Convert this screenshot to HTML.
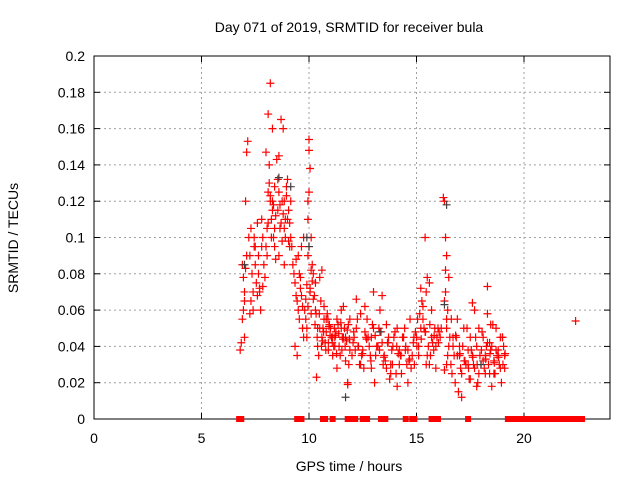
<!DOCTYPE html>
<html><head><meta charset="utf-8"><style>
body{margin:0;background:#fff;}
svg{display:block;font-family:"Liberation Sans",sans-serif;}
</style></head><body>
<svg id="c" width="640" height="480">
<text x="349" y="32" font-size="14" text-anchor="middle">Day 071 of 2019, SRMTID for receiver bula</text>
<text x="349" y="471" font-size="14" text-anchor="middle">GPS time / hours</text>
<text transform="translate(18,238) rotate(-90)" font-size="14" text-anchor="middle">SRMTID / TECUs</text>
<g id="grid"></g><g id="axes"></g><g id="pts"></g>
</svg>
<script>
const xTicks=[0,5,10,15,20];
const yTicks=[0,0.02,0.04,0.06,0.08,0.1,0.12,0.14,0.16,0.18,0.2];
const yTickLabels=["0","0.02","0.04","0.06","0.08","0.1","0.12","0.14","0.16","0.18","0.2"];
const redX=[6.8,6.85,6.9,6.95,7.0,7.05,7.1,6.9,7.0,7.05,7.1,7.15,7.0,6.95,7.2,7.25,7.3,7.35,7.4,7.45,7.5,7.55,7.6,7.65,7.7,7.75,7.8,7.85,7.9,7.95,7.3,7.4,7.5,7.6,7.7,7.8,7.25,7.45,7.65,7.85,
8.0,8.05,8.1,8.15,8.2,8.25,8.3,8.35,8.4,8.45,8.0,8.1,8.2,8.3,8.4,8.15,8.2,8.1,8.3,8.05,8.25,8.35,8.45,8.4,
8.5,8.55,8.6,8.65,8.7,8.75,8.8,8.85,8.9,8.95,9.0,9.05,9.1,9.15,9.2,9.25,8.6,8.7,8.8,8.9,9.0,9.1,8.55,8.65,8.75,8.85,8.95,9.05,9.15,8.6,8.85,
9.3,9.35,9.4,9.45,9.5,9.55,9.6,9.65,9.7,9.75,9.35,9.45,9.55,9.65,9.75,9.4,9.6,9.5,9.7,
9.8,9.85,9.9,9.95,10.0,10.05,10.1,10.15,10.2,9.85,9.9,9.95,10.0,10.05,9.9,9.95,10.0,10.1,10.15,10.2,9.95,10.0,10.05,10.1,
10.25,10.3,10.4,10.5,10.6,10.7,10.8,10.9,11.0,11.1,11.2,11.3,11.4,11.5,11.6,11.7,11.8,11.9,10.35,10.45,10.55,10.65,10.75,10.85,10.95,11.05,11.15,11.25,11.35,11.45,11.55,11.65,11.75,11.85,10.3,10.5,10.7,10.9,11.1,11.3,11.5,11.7,11.9,10.4,10.8,11.2,11.6,11.8,10.6,
10.28,10.38,10.48,10.58,10.68,10.78,10.88,10.98,11.08,11.18,11.28,11.38,11.48,11.58,11.68,11.78,11.88,10.33,10.63,10.93,11.23,11.53,11.83,
12.0,12.1,12.2,12.3,12.4,12.5,12.6,12.7,12.8,12.9,13.0,13.1,13.2,13.3,13.4,13.5,13.6,13.7,13.8,13.9,14.0,14.1,14.2,14.3,14.4,14.5,14.6,14.7,14.8,14.9,12.05,12.25,12.45,12.65,12.85,13.05,13.25,13.45,13.65,13.85,14.05,14.25,14.45,14.65,14.85,12.15,12.35,12.55,12.75,12.95,13.15,13.35,13.55,13.75,13.95,14.15,14.35,14.55,14.75,14.95,12.2,12.6,13.0,13.4,13.8,14.2,14.6,13.2,13.6,12.4,14.1,12.9,
12.08,12.28,12.48,12.68,12.88,13.08,13.28,13.48,13.68,13.88,14.08,14.28,14.48,14.68,14.88,
15.0,15.1,15.2,15.3,15.4,15.5,15.6,15.7,15.8,15.9,16.0,16.1,15.05,15.15,15.25,15.35,15.45,15.55,15.65,15.75,15.85,15.95,16.05,15.1,15.3,15.5,15.7,15.9,15.4,15.2,15.6,15.45,
15.02,15.22,15.42,15.62,15.82,16.02,16.15,
16.25,16.3,16.35,16.4,16.45,16.5,16.55,16.3,16.35,16.4,16.45,16.35,16.4,16.5,16.4,16.3,
16.6,16.7,16.8,16.9,17.0,17.1,17.2,17.3,17.4,17.5,17.6,17.7,17.8,17.9,18.0,18.1,18.2,18.3,18.4,18.5,18.6,18.7,18.8,18.9,19.0,19.1,16.65,16.75,16.85,16.95,17.05,17.15,17.25,17.35,17.45,17.55,17.65,17.75,17.85,17.95,18.05,18.15,18.25,18.35,18.45,18.55,18.65,18.75,18.85,18.95,19.05,16.7,16.9,17.1,17.3,17.5,17.7,17.9,18.1,18.3,18.5,18.7,18.9,19.1,17.0,17.4,17.8,18.2,18.6,19.0,18.4,18.45,17.6,18.3,
16.62,16.82,17.02,17.22,17.42,17.62,17.82,18.02,18.22,18.42,18.62,18.82,19.02,19.12];
const redY=[0.038,0.042,0.055,0.06,0.07,0.083,0.09,0.085,0.065,0.12,0.147,0.153,0.045,0.078,0.1,0.09,0.105,0.08,0.07,0.095,0.085,0.075,0.068,0.09,0.072,0.06,0.11,0.1,0.085,0.078,0.065,0.06,0.095,0.108,0.07,0.095,0.058,0.1,0.08,0.073,
0.095,0.105,0.125,0.13,0.12,0.11,0.115,0.1,0.095,0.088,0.147,0.168,0.185,0.16,0.128,0.14,0.123,0.108,0.12,0.09,0.1,0.118,0.112,0.105,
0.143,0.132,0.125,0.118,0.108,0.12,0.113,0.105,0.11,0.128,0.132,0.115,0.108,0.12,0.095,0.085,0.145,0.165,0.16,0.1,0.11,0.095,0.115,0.105,0.098,0.12,0.123,0.098,0.1,0.09,0.085,
0.08,0.075,0.088,0.065,0.06,0.055,0.072,0.068,0.05,0.045,0.04,0.035,0.08,0.095,0.1,0.068,0.078,0.09,0.062,
0.06,0.055,0.074,0.09,0.154,0.138,0.1,0.085,0.08,0.066,0.05,0.11,0.125,0.07,0.045,0.062,0.148,0.082,0.076,0.066,0.12,0.095,0.072,0.058,
0.068,0.06,0.04,0.05,0.045,0.055,0.048,0.042,0.05,0.035,0.045,0.055,0.04,0.05,0.062,0.045,0.02,0.038,0.023,0.035,0.065,0.05,0.042,0.058,0.052,0.045,0.04,0.048,0.052,0.035,0.045,0.05,0.043,0.03,0.075,0.078,0.062,0.038,0.045,0.028,0.06,0.032,0.055,0.05,0.055,0.04,0.045,0.019,0.082,
0.052,0.045,0.058,0.04,0.048,0.038,0.055,0.046,0.042,0.05,0.036,0.047,0.053,0.044,0.04,0.049,0.044,0.058,0.043,0.051,0.046,0.038,0.052,
0.035,0.045,0.05,0.04,0.03,0.038,0.048,0.055,0.04,0.045,0.05,0.035,0.04,0.06,0.042,0.035,0.028,0.045,0.03,0.04,0.048,0.05,0.038,0.025,0.045,0.04,0.038,0.055,0.035,0.03,0.042,0.055,0.035,0.045,0.035,0.02,0.05,0.03,0.042,0.038,0.025,0.035,0.05,0.032,0.042,0.038,0.03,0.028,0.045,0.052,0.04,0.048,0.032,0.022,0.045,0.036,0.045,0.03,0.028,0.048,0.066,0.062,0.07,0.068,0.025,0.03,0.02,0.04,0.052,0.058,0.018,0.028,
0.048,0.04,0.036,0.044,0.032,0.046,0.038,0.034,0.042,0.03,0.04,0.035,0.038,0.033,0.045,
0.045,0.04,0.05,0.055,0.048,0.035,0.03,0.045,0.038,0.028,0.05,0.045,0.055,0.058,0.065,0.05,0.07,0.04,0.035,0.042,0.05,0.045,0.048,0.035,0.062,0.078,0.06,0.04,0.1,0.072,0.075,0.03,
0.04,0.044,0.048,0.052,0.046,0.042,0.05,
0.122,0.12,0.1,0.09,0.06,0.078,0.045,0.065,0.07,0.055,0.035,0.082,0.05,0.04,0.03,0.027,
0.03,0.045,0.02,0.035,0.04,0.025,0.05,0.03,0.038,0.045,0.035,0.028,0.04,0.05,0.03,0.045,0.035,0.058,0.025,0.04,0.032,0.05,0.038,0.028,0.045,0.035,0.025,0.035,0.045,0.015,0.028,0.04,0.032,0.05,0.022,0.038,0.03,0.045,0.02,0.035,0.048,0.028,0.04,0.03,0.038,0.052,0.025,0.035,0.03,0.02,0.04,0.04,0.055,0.012,0.03,0.022,0.06,0.025,0.032,0.042,0.018,0.038,0.045,0.028,0.035,0.03,0.018,0.025,0.025,0.045,0.042,0.052,0.064,0.073,0.055,0.046,
0.036,0.032,0.028,0.034,0.03,0.038,0.033,0.036,0.031,0.034,0.03,0.036,0.033,0.038];
const lateX=[22.4];
const lateY=[0.054];
const grayX=[7.0,8.6,9.15,9.9,10.0,11.7,13.3,16.4,16.3,18.0];
const grayY=[0.085,0.133,0.128,0.1,0.095,0.012,0.048,0.118,0.063,0.03];
const zeroX=[6.75,6.8,6.85,9.45,9.55,9.65,10.65,10.75,11.1,11.8,11.9,12.0,12.15,12.5,12.6,12.7,13.35,13.45,13.55,14.5,14.8,14.9,15.7,15.8,16.0,17.4,19.25,19.4,19.55,19.7,19.85,20.0,20.15,20.3,20.45,20.6,20.75,20.9,21.05,21.2,21.35,21.5,21.65,21.8,21.95,22.1,22.25,22.4,22.55,22.7];
const X0=94,X1=610,Y0=419,Y1=56;
const sx=v=>X0+(X1-X0)*v/24, sy=v=>Y0-(Y0-Y1)*v/0.2;
const NS='http://www.w3.org/2000/svg';
function mk(tag,attrs,parent){const e=document.createElementNS(NS,tag);for(const k in attrs)e.setAttribute(k,attrs[k]);parent.appendChild(e);return e;}
const grid=document.getElementById('grid'),axes=document.getElementById('axes'),pts=document.getElementById('pts');
yTicks.forEach((t,i)=>{const y=sy(t);
 if(i>0&&i<yTicks.length-1){const g=mk('line',{x1:X0,x2:X1,y1:y,y2:y,stroke:'#a0a0a0','stroke-dasharray':'2,3'},grid);}
 mk('line',{x1:X0,x2:X0+6,y1:y,y2:y,stroke:'#000'},axes);mk('line',{x1:X1,x2:X1-6,y1:y,y2:y,stroke:'#000'},axes);
 const tx=mk('text',{x:X0-9,y:y+5,'font-size':14,'text-anchor':'end'},axes);tx.textContent=yTickLabels[i];
 });
xTicks.forEach(t=>{const x=sx(t);
 if(t>0){const g=mk('line',{x1:x,x2:x,y1:Y0,y2:Y1,stroke:'#a0a0a0','stroke-dasharray':'2,3'},grid);}
 mk('line',{x1:x,x2:x,y1:Y0,y2:Y0-6,stroke:'#000'},axes);mk('line',{x1:x,x2:x,y1:Y1,y2:Y1+6,stroke:'#000'},axes);
 const tx=mk('text',{x:x,y:Y0+24,'font-size':14,'text-anchor':'middle'},axes);tx.textContent=t;
 });
const fr=mk('rect',{x:X0,y:Y1,width:X1-X0,height:Y0-Y1,fill:'none',stroke:'#000'},axes);

function plus(x,y,col){const p=mk('path',{d:`M${x-4},${y}h8M${x},${y-4}v8`,stroke:col,'stroke-width':1.2},pts);return p;}
const nRed=Math.min(redX.length,redY.length);
for(let i=0;i<nRed;i++){const p=plus(sx(redX[i]),sy(redY[i]),'#ff0000');
 }
lateX.forEach((v,i)=>{const p=plus(sx(v),sy(lateY[i]),'#ff0000');
 });
grayX.forEach((v,i)=>{const p=plus(sx(v),sy(grayY[i]),'#404040');
 });
zeroX.forEach(v=>{const r=mk('rect',{x:sx(v)-3,y:Y0-3,width:6,height:6,fill:'#ff0000'},pts);
 });
</script>
</body></html>
